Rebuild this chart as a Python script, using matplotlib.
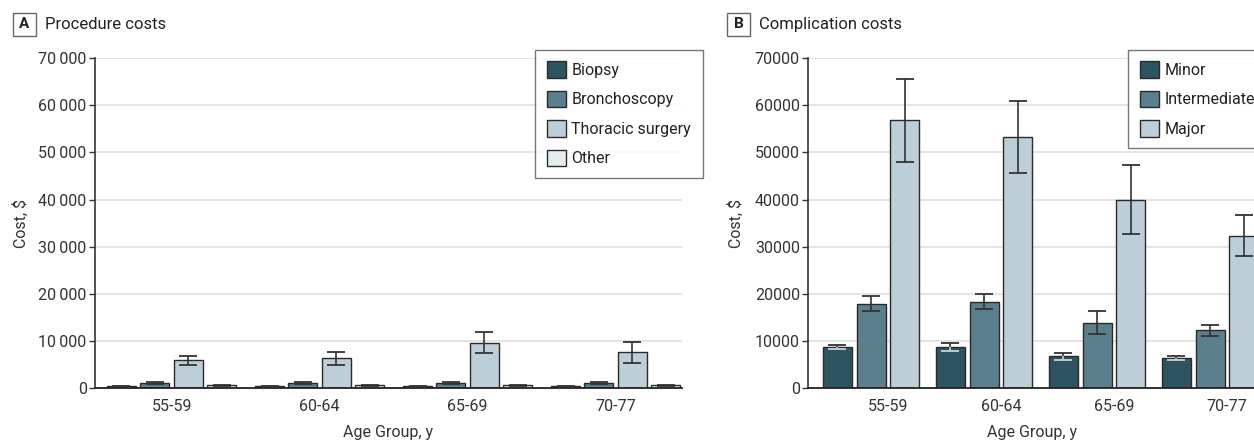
import matplotlib
matplotlib.use('Agg')
import matplotlib.pyplot as plt
from matplotlib import font_manager
from matplotlib.patches import Rectangle
from matplotlib.ticker import FuncFormatter
import numpy as np

names = {f.name for f in font_manager.fontManager.ttflist}
FONT = 'Liberation Sans Narrow' if 'Liberation Sans Narrow' in names else 'Roboto'
plt.rcParams['font.family'] = [FONT, 'DejaVu Sans']

# ---------------- data ----------------
age_groups = ['55-59', '60-64', '65-69', '70-77']

proc_labels = ['Biopsy', 'Bronchoscopy', 'Thoracic surgery', 'Other']
biopsy_mean = [420, 400, 420, 400]
biopsy_lo = [340, 320, 340, 320]
biopsy_hi = [500, 480, 500, 480]
bronch_mean = [1060, 1060, 1080, 1060]
bronch_lo = [880, 880, 900, 880]
bronch_hi = [1240, 1240, 1260, 1240]
thoracic_mean = [5920, 6400, 9650, 7600]
thoracic_lo = [4930, 4930, 7390, 5280]
thoracic_hi = [6900, 7750, 11970, 9860]
other_mean = [630, 630, 630, 630]
other_lo = [530, 530, 530, 530]
other_hi = [730, 730, 730, 730]

comp_labels = ['Minor', 'Intermediate', 'Major']
minor_mean = [8800, 8800, 6760, 6410]
minor_lo = [8310, 7960, 5915, 5915]
minor_hi = [9225, 9580, 7535, 6760]
inter_mean = [17960, 18380, 13940, 12390]
inter_lo = [16340, 16760, 11480, 11130]
inter_hi = [19510, 19930, 16410, 13520]
major_mean = [56840, 53230, 40000, 32320]
major_lo = [47990, 45580, 32680, 27960]
major_hi = [65610, 60870, 47220, 36740]

colors4 = ['#2e5462', '#5b7f8c', '#bccfd8', '#e6edf0']

W, H = 1254, 440
fig = plt.figure(figsize=(W / 100, H / 100), dpi=100)

FS = 11.5
EDGE = '#2a2a2a'
ERR = '#333333'
LIGHT = '#c9d4d9'


def fmt_thin(v, p):
    v = int(round(v))
    if v >= 10000:
        return f'{v:,}'.replace(',', '\u2009')
    return str(v)


def fmt_plain(v, p):
    return str(int(round(v)))


def style_axes(ax, formatter):
    ax.set_ylim(0, 70000)
    ax.set_yticks(np.arange(0, 70001, 10000))
    ax.yaxis.set_major_formatter(FuncFormatter(formatter))
    ax.grid(axis='y', color='#dcdcdc', linewidth=1.1, zorder=0)
    ax.set_axisbelow(True)
    for s in ['top', 'right']:
        ax.spines[s].set_visible(False)
    ax.spines['left'].set_color('#333333')
    ax.spines['bottom'].set_color('#222222')
    ax.spines['left'].set_linewidth(1.2)
    ax.spines['bottom'].set_linewidth(1.3)
    ax.tick_params(axis='y', length=4, width=1, color='#333333', pad=2,
                   labelsize=FS, labelcolor='#333333')
    ax.tick_params(axis='x', length=0, pad=8, labelsize=FS, labelcolor='#333333')


def draw_group(ax, x, means, lo, hi, color, width, light_lower=False):
    means = np.array(means, float)
    lo = np.array(lo, float)
    hi = np.array(hi, float)
    ax.bar(x, means, width=width, color=color, edgecolor=EDGE, linewidth=1.0, zorder=2)
    low_col = LIGHT if light_lower else ERR
    ax.vlines(x, means, hi, colors=ERR, linewidth=1.2, zorder=3)
    ax.vlines(x, lo, means, colors=low_col, linewidth=1.2, zorder=3)
    ax.plot(x, hi, linestyle='none', marker='_', markersize=13, markeredgewidth=1.3,
            color=ERR, zorder=3)
    ax.plot(x, lo, linestyle='none', marker='_', markersize=13, markeredgewidth=1.3,
            color=low_col, zorder=3)


def make_legend(ax, handles, labels, x0):
    leg = ax.legend(handles, labels, loc='upper left',
                    bbox_to_anchor=(x0 / W, 1 - 50 / H), bbox_transform=fig.transFigure,
                    borderaxespad=0, fancybox=False, frameon=True, fontsize=FS,
                    handlelength=1.2, handleheight=1.2, handletextpad=0.35,
                    labelspacing=0.8, borderpad=0.72)
    leg.get_frame().set_edgecolor('#555555')
    leg.get_frame().set_linewidth(1.0)
    for t in leg.get_texts():
        t.set_color('#222222')
    return leg


# ---------------- Panel A ----------------
axA = fig.add_axes([95 / W, 1 - 388.3 / H, (682 - 95) / W, (388.3 - 58) / H])
xA = np.arange(len(age_groups))
sA, wA = 0.226, 0.196
proc_data = [
    (biopsy_mean, biopsy_lo, biopsy_hi),
    (bronch_mean, bronch_lo, bronch_hi),
    (thoracic_mean, thoracic_lo, thoracic_hi),
    (other_mean, other_lo, other_hi),
]
handlesA = []
for k, (m, lo, hi) in enumerate(proc_data):
    draw_group(axA, xA + (k - 1.5) * sA, m, lo, hi, colors4[k], wA)
    handlesA.append(Rectangle((0, 0), 1, 1, facecolor=colors4[k], edgecolor=EDGE, linewidth=1.0))
style_axes(axA, fmt_thin)
axA.set_xlim(-0.518, 3.448)
axA.set_xticks(xA)
axA.set_xticklabels(age_groups)
make_legend(axA, handlesA, proc_labels, 535)

# ---------------- Panel B ----------------
axB = fig.add_axes([808.3 / W, 1 - 388.3 / H, (W - 808.3) / W, (388.3 - 58) / H])
xB = np.arange(len(age_groups))
sB, wB = 0.298, 0.257
comp_data = [
    (minor_mean, minor_lo, minor_hi),
    (inter_mean, inter_lo, inter_hi),
    (major_mean, major_lo, major_hi),
]
handlesB = []
for k, (m, lo, hi) in enumerate(comp_data):
    draw_group(axB, xB + (k - 1.5) * sB, m, lo, hi, colors4[k], wB, light_lower=(k == 0))
    handlesB.append(Rectangle((0, 0), 1, 1, facecolor=colors4[k], edgecolor=EDGE, linewidth=1.0))
style_axes(axB, fmt_plain)
axB.set_xlim(-0.705, 3.239)
axB.set_xticks(xB)
axB.set_xticklabels(age_groups)
make_legend(axB, handlesB, comp_labels, 1128.3)

# ---------------- texts ----------------
def panel_label(x0, letter, title):
    fig.add_artist(Rectangle((x0 / W, 1 - 36 / H), 23 / W, 23 / H, transform=fig.transFigure,
                             fill=False, edgecolor='#666666', linewidth=1.0))
    fig.text((x0 + 11.5) / W, 1 - 24.5 / H, letter, ha='center', va='center',
             fontsize=11, fontweight='bold', color='#222222')
    fig.text((x0 + 32) / W, 1 - 24.5 / H, title, ha='left', va='center',
             fontsize=12, color='#222222')

panel_label(13, 'A', 'Procedure costs')
panel_label(727, 'B', 'Complication costs')

ymid = 1 - (58 + 388.3) / 2 / H
fig.text(21 / W, ymid, 'Cost, $', rotation=90, ha='center', va='center', fontsize=FS, color='#333333')
fig.text(736 / W, ymid, 'Cost, $', rotation=90, ha='center', va='center', fontsize=FS, color='#333333')
fig.text((95 + 682) / 2 / W, 1 - 432 / H, 'Age Group, y', ha='center', va='center', fontsize=FS, color='#333333')
fig.text(1032 / W, 1 - 432 / H, 'Age Group, y', ha='center', va='center', fontsize=FS, color='#333333')

fig.savefig('out.png', dpi=100)
